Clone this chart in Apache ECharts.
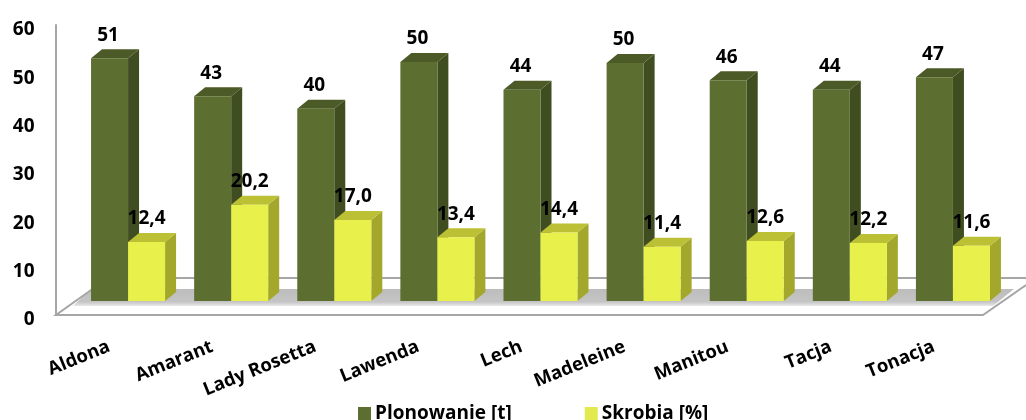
<!DOCTYPE html>
<html>
<head>
<meta charset="utf-8">
<style>html,body{margin:0;padding:0;background:#fff}#c{width:1026px;height:420px;filter:blur(0.5px)}</style>
<script src="https://cdn.jsdelivr.net/npm/echarts@6/dist/echarts.min.js"></script>
</head>
<body>
<div id="c"></div>
<script>
var categories = ['Aldona','Amarant','Lady Rosetta','Lawenda','Lech','Madeleine','Manitou','Tacja','Tonacja'];
var plonowanie = [51,43,40.4,50.2,44.4,50,46.4,44.4,47];
var skrobia = [12.4,20.2,17.0,13.4,14.4,11.4,12.6,12.2,11.6];
var yTicks = {min:0,max:60,interval:10};

var FONT = '"Open Sans"';
var chart = echarts.init(document.getElementById('c'));

function bar3d(side, front, top, dark, fmt, labelShift) {
  return function (params, api) {
    var i = api.value(0), v = api.value(1);
    var b = api.coord([i, 0]), t = api.coord([i, v]);
    var w = api.size([1, 0])[0] * 0.359;
    var x0 = side < 0 ? b[0] - w : b[0], x1 = x0 + w;
    var dx = 11, dy = 9;
    return {
      type: 'group',
      children: [
        {type:'polygon', shape:{points:[[x1,t[1]],[x1+dx,t[1]-dy],[x1+dx,b[1]-dy],[x1,b[1]]]}, style:{fill:dark}},
        {type:'polygon', shape:{points:[[x0,t[1]],[x0+dx,t[1]-dy],[x1+dx,t[1]-dy],[x1,t[1]]]}, style:{fill:top}},
        {type:'rect', shape:{x:x0,y:t[1],width:w,height:b[1]-t[1]}, style:{fill:front}},
        {type:'text', x:(x0+x1)/2+labelShift, y:t[1]-23, style:{text:fmt(v),fill:'#000',font:'700 19px '+FONT,textAlign:'center',textVerticalAlign:'middle'}}
      ]
    };
  };
}
function toData(a){return a.map(function(v,i){return [i,v];});}

chart.setOption({
  animation:false,
  backgroundColor:'#fff',
  legend:{
    left:353, top:399, itemWidth:13, itemHeight:13, itemGap:73,
    icon:'rect',
    textStyle:{fontFamily:FONT,fontWeight:700,fontSize:19,color:'#000',padding:[0,0,0,-1]},
    data:['Plonowanie [t]','Skrobia [%]']
  },
  grid:[
    {left:57.5,width:928,top:25,height:290},
    {left:76.5,width:928,top:15.4,height:285.6}
  ],
  xAxis:[
    {gridIndex:0,type:'category',data:categories,axisLine:{show:false},axisTick:{show:false},
     axisLabel:{rotate:22,margin:31,interval:0,fontFamily:FONT,fontWeight:700,fontSize:18.5,color:'#000'}},
    {gridIndex:1,type:'category',data:categories,show:false}
  ],
  yAxis:[
    {gridIndex:0,type:'value',min:yTicks.min,max:yTicks.max,interval:yTicks.interval,offset:2,
     axisLine:{show:true,lineStyle:{color:'#a6a6a6',width:2}},axisTick:{show:false},splitLine:{show:false},
     axisLabel:{margin:21,verticalAlign:'top',lineHeight:10,fontFamily:FONT,fontWeight:700,fontSize:19,color:'#000'}},
    {gridIndex:1,type:'value',min:yTicks.min,max:yTicks.max,interval:yTicks.interval,show:false}
  ],
  graphic:[
    {type:'polygon',z:0,shape:{points:[[91,289],[1014,289],[993,306],[73,306]]},
     style:{fill:new echarts.graphic.LinearGradient(0,0,0,1,[{offset:0,color:'#bdbdbd'},{offset:0.75,color:'#c4c4c4'},{offset:1,color:'#e8e8e8'}])}},
    {type:'polyline',z:0,shape:{points:[[108,278],[56,315],[983,315],[1026,285]]},style:{fill:null,stroke:'#a6a6a6',lineWidth:2}},
    {type:'line',z:0,shape:{x1:108,y1:278,x2:1026,y2:278},style:{stroke:'#a6a6a6',lineWidth:2}}
  ],
  tooltip:{show:false},
  series:[
    {name:'Plonowanie [t]',type:'custom',xAxisIndex:1,yAxisIndex:1,z:3,data:toData(plonowanie),encode:{x:0,y:1},
     itemStyle:{color:'#5d6f30'},
     renderItem:bar3d(-1,'#5d6f30','#4b5a26','#3f4d20',function(v){return String(Math.round(v));},-1.5)},
    {name:'Skrobia [%]',type:'custom',xAxisIndex:1,yAxisIndex:1,z:4,data:toData(skrobia),encode:{x:0,y:1},
     itemStyle:{color:'#e3ea50'},
     renderItem:bar3d(1,'#e8f04c','#bcc034','#a3a82c',function(v){return v.toFixed(1).replace('.',',');},0)}
  ]
});
</script>
</body>
</html>
